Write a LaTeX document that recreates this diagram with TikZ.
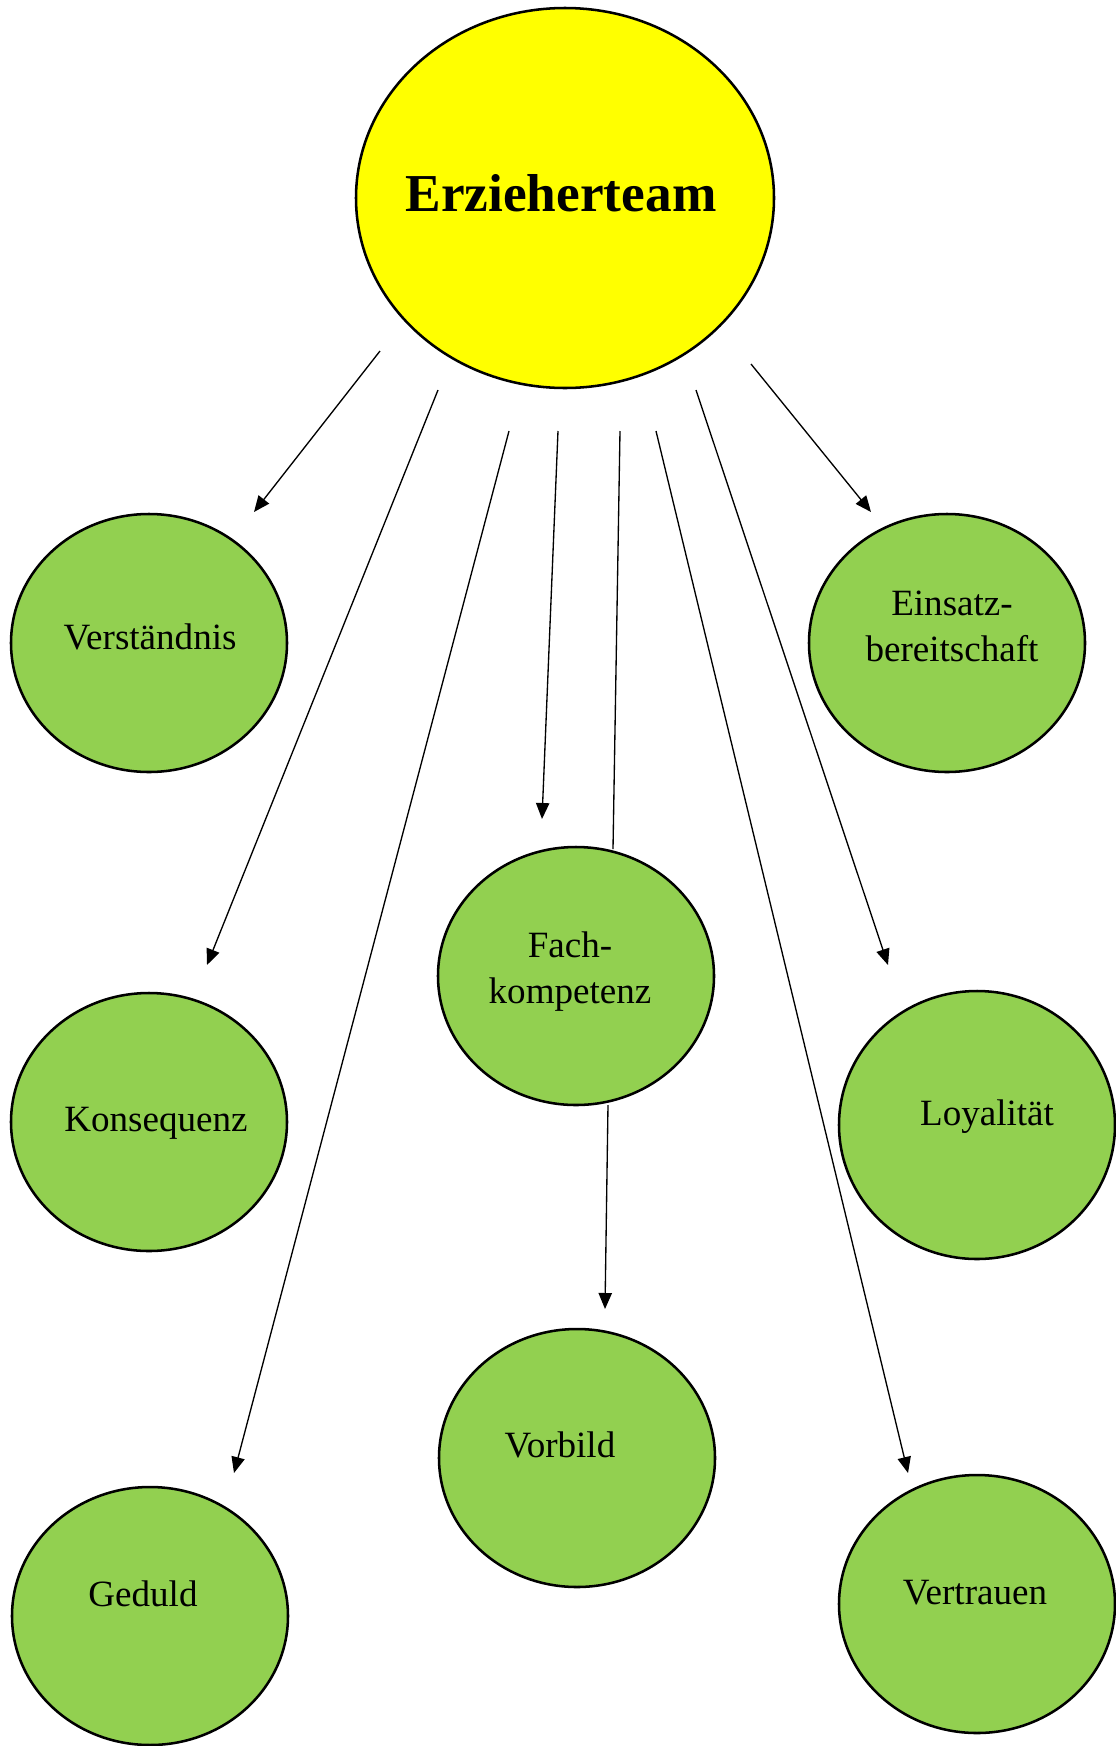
\documentclass[tikz,border=0pt]{standalone}
\usepackage{fontspec}
\setmainfont{Liberation Serif}
\usetikzlibrary{arrows.meta}
\definecolor{topyellow}{HTML}{FFFF00}
\definecolor{leafgreen}{HTML}{92D050}
\begin{document}
\begin{tikzpicture}[x=0.75pt,y=-0.75pt,
  leaf/.style={draw=black,line width=1.9pt,fill=leafgreen},
  leaftext/.style={font=\fontsize{27.8}{34.5}\selectfont,align=center,inner sep=0pt},
  conn/.style={line width=1pt,-{Triangle[length=12pt,width=10pt]}},
  plainconn/.style={line width=1pt}]
\useasboundingbox (0,0) rectangle (1115,1746);
% top ellipse
\filldraw[draw=black,line width=1.9pt,fill=topyellow] (565,198) ellipse [x radius=209, y radius=190];
\node[inner sep=0pt,font=\fontsize{40}{48}\selectfont\bfseries] (top) at (561,193) {Erzieherteam};
% green circles
\filldraw[leaf] (149,643) ellipse [x radius=138, y radius=129];
\filldraw[leaf] (947,643) ellipse [x radius=138, y radius=129];
\filldraw[leaf] (576,976) ellipse [x radius=138, y radius=129];
\filldraw[leaf] (149,1122) ellipse [x radius=138, y radius=129];
\filldraw[leaf] (977,1125) ellipse [x radius=138, y radius=134];
\filldraw[leaf] (577,1458) ellipse [x radius=138, y radius=129];
\filldraw[leaf] (150,1616) ellipse [x radius=138, y radius=129];
\filldraw[leaf] (977,1604) ellipse [x radius=138, y radius=129];
% labels
\node[leaftext] (vers) at (150,637) {Verständnis};
\node[leaftext] (eins) at (952,626) {Einsatz-\\bereitschaft};
\node[leaftext] (fach) at (570,972) {Fach-\\kompetenz};
\node[leaftext] (kons) at (156,1123) {Konsequenz};
\node[leaftext] (loya) at (987,1117) {Loyalität};
\node[leaftext] (vorb) at (560,1445) {Vorbild};
\node[leaftext] (gedu) at (143,1594) {Geduld};
\node[leaftext] (vert) at (975,1593) {Vertrauen};
% connector end points
\coordinate (s1) at (380,351); \coordinate (e1) at (254,512);
\coordinate (s2) at (438,390); \coordinate (e2) at (207,965);
\coordinate (s3) at (509,431); \coordinate (e3) at (234,1473);
\coordinate (s4) at (558,431); \coordinate (e4) at (542,819);
\coordinate (s5) at (620,431); \coordinate (e5) at (613,849);
\coordinate (s6) at (656,431); \coordinate (e6) at (908,1473);
\coordinate (s7) at (696,390); \coordinate (e7) at (888,965);
\coordinate (s8) at (751,364); \coordinate (e8) at (871,512);
\coordinate (s9) at (608,1105); \coordinate (e9) at (605,1309);
\draw[conn] (s1) -- (e1);
\draw[conn] (s2) -- (e2);
\draw[conn] (s3) -- (e3);
\draw[conn] (s4) -- (e4);
\draw[plainconn] (s5) -- (e5);
\draw[conn] (s6) -- (e6);
\draw[conn] (s7) -- (e7);
\draw[conn] (s8) -- (e8);
\draw[conn] (s9) -- (e9);
\end{tikzpicture}
\end{document}
